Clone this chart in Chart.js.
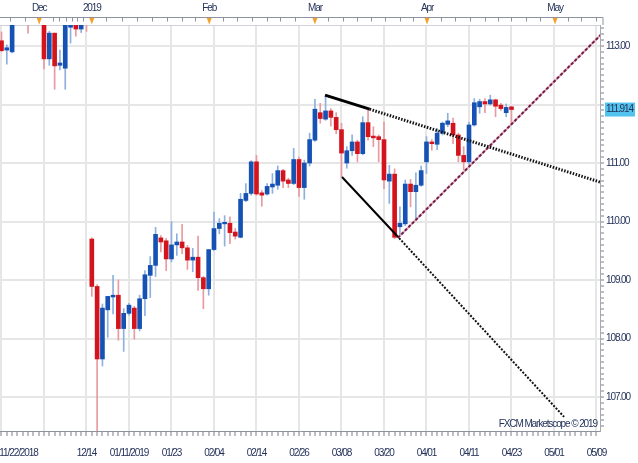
<!DOCTYPE html>
<html>
<head>
<meta charset="utf-8">
<script src="https://cdn.jsdelivr.net/npm/chart.js@4.4.1/dist/chart.umd.min.js"></script>
<style>
  html, body { margin: 0; padding: 0; background: #fff; }
</style>
</head>
<body>
<canvas id="chart" width="638" height="463"></canvas>
<script>
// one bar per trading day, bar 0 = 11/22/2018, bar 96 = 04/23/2019
const opens = [113.09, 112.93, 112.90, 113.50, 113.65, 113.75, 113.50, 113.62, 113.55, 112.78,
  113.22, 112.67, 112.62, 113.32, 113.45, 113.29, 113.55, 109.70, 108.89, 107.65,
  108.49, 108.71, 108.74, 108.17, 108.43, 108.52, 108.17, 108.68, 109.08, 109.25,
  109.72, 109.67, 109.36, 109.60, 109.65, 109.55, 109.34, 109.39, 109.04, 108.85,
  109.52, 109.88, 109.96, 109.97, 109.82, 109.73, 110.36, 110.48, 111.02, 110.49,
  110.47, 110.59, 110.62, 110.87, 110.71, 110.65, 111.06, 110.58, 111.00, 111.39,
  111.86, 111.75, 111.89, 111.78, 111.57, 111.00, 111.21, 111.36, 111.16, 111.69,
  111.46, 111.45, 111.40, 110.69, 110.81, 109.91, 109.96, 110.64, 110.51, 110.62,
  111.02, 111.36, 111.32, 111.51, 111.66, 111.68, 111.48, 111.13, 111.02, 111.65,
  111.96, 112.05, 112.01, 112.08, 111.99, 111.86, 111.96];
const highs = [113.24, 113.02, 113.55, 113.80, 113.90, 113.85, 113.85, 113.80, 113.70, 113.25,
  113.22, 112.93, 113.55, 113.55, 113.55, 113.50, 113.60, 109.72, 108.92, 108.59,
  108.72, 109.08, 109.00, 108.51, 108.60, 108.55, 108.74, 109.16, 109.40, 109.90,
  109.76, 109.71, 110.00, 109.79, 109.95, 109.59, 109.54, 109.75, 109.06, 109.52,
  110.16, 110.05, 110.10, 110.08, 109.88, 110.48, 110.65, 111.04, 111.13, 110.53,
  110.65, 110.82, 110.95, 110.89, 110.74, 111.25, 111.10, 111.05, 111.51, 112.09,
  112.02, 112.14, 111.93, 111.86, 111.68, 111.28, 111.48, 111.39, 111.79, 111.90,
  111.62, 111.48, 111.70, 110.96, 110.90, 110.25, 110.71, 110.72, 110.83, 110.95,
  111.45, 111.40, 111.59, 111.70, 111.85, 111.77, 111.51, 111.28, 111.70, 112.10,
  112.09, 112.10, 112.16, 112.09, 112.02, 112.01, 111.97];
const lows = [112.90, 112.69, 112.88, 113.42, 113.45, 113.22, 113.40, 113.45, 112.61, 112.67,
  112.26, 112.59, 112.26, 113.05, 113.17, 113.23, 113.25, 108.72, 104.87, 107.53,
  108.02, 108.42, 107.97, 107.78, 108.40, 107.99, 108.13, 108.39, 108.70, 109.06,
  109.48, 109.16, 109.31, 109.42, 109.45, 109.18, 109.14, 108.82, 108.51, 108.74,
  109.50, 109.79, 109.58, 109.62, 109.70, 109.72, 110.34, 110.45, 110.45, 110.26,
  110.45, 110.48, 110.55, 110.58, 110.58, 110.63, 110.43, 110.38, 110.95, 111.37,
  111.68, 111.73, 111.63, 111.50, 110.76, 110.91, 111.13, 111.02, 111.14, 111.39,
  111.28, 111.02, 110.56, 110.31, 109.71, 109.76, 109.93, 110.25, 110.04, 110.60,
  110.82, 111.22, 111.23, 111.48, 111.62, 111.33, 111.02, 110.88, 110.97, 111.63,
  111.85, 111.86, 111.99, 111.79, 111.90, 111.79, 111.68];
const closes = [112.92, 112.97, 113.50, 113.65, 113.75, 113.50, 113.62, 113.55, 112.78, 113.22,
  112.66, 112.71, 113.50, 113.45, 113.29, 113.42, 113.40, 108.89, 107.65, 108.52,
  108.72, 108.74, 108.17, 108.43, 108.57, 108.17, 108.68, 109.09, 109.25, 109.78,
  109.65, 109.36, 109.60, 109.65, 109.55, 109.34, 109.39, 109.04, 108.85, 109.52,
  109.88, 109.97, 109.98, 109.81, 109.75, 110.38, 110.48, 111.02, 110.47, 110.45,
  110.60, 110.64, 110.87, 110.69, 110.65, 111.06, 110.58, 111.00, 111.40, 111.92,
  111.76, 111.89, 111.78, 111.57, 111.17, 111.21, 111.36, 111.16, 111.69, 111.45,
  111.43, 111.40, 110.71, 110.81, 109.73, 109.97, 110.64, 110.51, 110.62, 110.87,
  111.36, 111.33, 111.51, 111.68, 111.72, 111.48, 111.13, 111.02, 111.65, 112.03,
  112.05, 112.01, 112.08, 111.97, 111.93, 111.95, 111.914];

// trend lines, [bar, price]
const upperSolid = [[60.9, 112.16], [69.3, 111.92]];
const upperDotted = [[69.3, 111.92], [112.8, 110.67]];
const lowerSolid = [[64.1, 110.76], [74.4, 109.76]];
const lowerDotted = [[74.4, 109.76], [105.9, 106.66]];
const supportLine = [[74.6, 109.72], [112.8, 113.19]];

// axis labels
const dateTickPos = [3.2, 16, 24, 32, 40, 48, 56, 64, 72, 80, 88, 96, 104, 112];
const dateTickText = ['11/22/2018', '12/14', '01/11/2019', '01/23', '02/04', '02/14', '02/26',
  '03/08', '03/20', '04/01', '04/11', '04/23', '05/01', '05/09'];
const monthPos = [7.1, 17, 39.1, 59, 80.1, 104.2];
const monthText = ['Dec', '2019', 'Feb', 'Mar', 'Apr', 'May'];
const topMinorPos = [1.6, 4.4, 9.7, 10.8, 12.1, 13.3, 14.2, 15.3, 19.7, 22.7, 25.5, 28.3, 31.2,
  34.0, 36.4, 41.7, 44.4, 47.2, 50.0, 52.4, 55.3, 61.5, 64.3, 66.9, 69.6, 72.2, 75.0, 77.5,
  82.7, 85.4, 88.2, 91.0, 93.5, 95.9, 98.7, 101.4, 106.6, 109.1, 111.9];
const lastPrice = 111.914;

const FONT = "'Liberation Sans', 'DejaVu Sans', sans-serif";
const TEXT = '#25335a';
Chart.defaults.font.family = FONT;
Chart.defaults.font.size = 10;
Chart.defaults.color = TEXT;

const RED = '#d3141c', BLUE = '#1652b4';
const RED_WICK = '#e89aa0', BLUE_WICK = '#8db0de';
const bars = opens.map((o, i) => i);
const up = i => closes[i] >= opens[i];
const pts = arr => arr.map(p => ({ x: p[0], y: p[1] }));
const near = (a, b) => Math.abs(a - b) < 1e-6;

function lineSet(arr, color, width, dash, order) {
  return {
    type: 'line', data: pts(arr), borderColor: color, borderWidth: width,
    borderDash: dash, pointRadius: 0, fill: false, tension: 0, order: order || 0, clip: 0
  };
}

// the original labels are very narrow, tighten the glyphs a bit
const narrowText = {
  id: 'narrowText',
  beforeUpdate(chart) { chart.ctx.letterSpacing = '-1.1px'; },
  beforeDraw(chart) { chart.ctx.letterSpacing = '-1.1px'; }
};

const frame = {
  id: 'frame',
  afterDraw(chart) {
    const c = chart.ctx, top = chart.scales.xTop, a = chart.chartArea;
    c.save();
    c.strokeStyle = '#8d929c';
    c.lineWidth = 1;
    c.beginPath();
    c.moveTo(a.left, 17.5); c.lineTo(a.right + 3, 17.5); c.lineTo(a.right + 3, 25);
    topMinorPos.forEach(p => {
      const x = Math.round(top.getPixelForValue(p)) + 0.5;
      c.moveTo(x, 17.5); c.lineTo(x, 21.5);
    });
    c.stroke();
    c.fillStyle = '#f2a22c';
    monthPos.forEach(p => {
      const x = top.getPixelForValue(p);
      c.beginPath();
      c.moveTo(x - 2.5, 18); c.lineTo(x + 2.5, 18); c.lineTo(x, 24.5);
      c.closePath(); c.fill();
    });
    c.font = '10px ' + FONT;
    c.fillStyle = TEXT;
    c.textAlign = 'right';
    c.textBaseline = 'middle';
    c.fillText('FXCM Marketscope \u00a9 2019', a.right - 3, 424);
    c.restore();
  }
};

new Chart(document.getElementById('chart'), {
  type: 'bar',
  data: {
    datasets: [
      lineSet(upperSolid, '#000', 3, []),
      lineSet(upperDotted, '#111', 3, [1.5, 1.5]),
      lineSet(lowerSolid, '#000', 2, []),
      lineSet(lowerDotted, '#111', 2, [2, 1.5]),
      lineSet(supportLine, '#761a44', 2, [3, 2], 0),
      lineSet(supportLine, '#dba6bd', 2, [], 0.5),
      {
        data: bars.map(i => ({ x: i, y: [opens[i], closes[i]] })),
        backgroundColor: bars.map(i => up(i) ? BLUE : RED),
        barThickness: 4, minBarLength: 1.5, grouped: false, order: 1, clip: 0
      },
      {
        data: bars.map(i => ({ x: i, y: [lows[i], highs[i]] })),
        backgroundColor: bars.map(i => up(i) ? BLUE_WICK : RED_WICK),
        barThickness: 1, grouped: false, order: 2, clip: 0
      }
    ]
  },
  options: {
    responsive: false,
    animation: false,
    devicePixelRatio: 1,
    layout: { padding: 0 },
    plugins: { legend: { display: false }, tooltip: { enabled: false } },
    scales: {
      x: {
        type: 'linear', position: 'bottom', offset: false,
        min: -0.282, max: 112.66,
        afterBuildTicks: s => {
          const t = new Set(dateTickPos);
          for (let i = 0; i <= 112; i++) t.add(i);
          s.ticks = [...t].sort((a, b) => a - b).map(v => ({ value: v }));
        },
        afterFit: s => { s.height = 32; s.paddingLeft = 0; s.paddingRight = 0; },
        grid: {
          offset: false,
          color: c => (Number.isInteger(c.tick.value) && c.tick.value % 8 === 0) ? '#e6e6e6' : 'rgba(0,0,0,0)',
          lineWidth: 2,
          tickColor: c => Number.isInteger(c.tick.value) ? '#7a7f88' : 'rgba(0,0,0,0)',
          tickWidth: 1, tickLength: 5
        },
        border: { color: '#8d929c' },
        ticks: {
          autoSkip: false, maxRotation: 0, minRotation: 0, padding: 11,
          callback: v => {
            const k = dateTickPos.findIndex(p => near(p, v));
            return k >= 0 ? dateTickText[k] : '';
          }
        }
      },
      xTop: {
        type: 'linear', position: 'top', offset: false,
        min: -0.282, max: 112.66,
        afterBuildTicks: s => { s.ticks = monthPos.map(v => ({ value: v })); },
        afterFit: s => { s.height = 25; s.paddingLeft = 0; s.paddingRight = 0; },
        grid: { display: false, drawTicks: false, tickLength: 0 },
        border: { color: '#cfd2d8' },
        ticks: {
          autoSkip: false, maxRotation: 0, padding: 11,
          callback: v => {
            const k = monthPos.findIndex(p => near(p, v));
            return k >= 0 ? monthText[k] : '';
          }
        }
      },
      y: {
        type: 'linear', position: 'right',
        min: 106.419, max: 113.359,
        afterBuildTicks: s => {
          const t = [];
          for (let i = 1065; i <= 1133; i++) t.push({ value: i / 10 });
          t.push({ value: lastPrice });
          s.ticks = t.sort((a, b) => a.value - b.value);
        },
        afterFit: s => { s.width = 38; s.paddingTop = 0; s.paddingBottom = 0; },
        grid: {
          color: c => near(c.tick.value, Math.round(c.tick.value)) ? '#e6e6e6' : 'rgba(0,0,0,0)',
          lineWidth: 2,
          tickColor: c => near(c.tick.value, lastPrice) ? 'rgba(0,0,0,0)' : '#7a7f88',
          tickWidth: 1, tickLength: 4
        },
        border: { color: '#a6abb3' },
        ticks: {
          autoSkip: false, padding: 2,
          showLabelBackdrop: c => !!c.tick && near(c.tick.value, lastPrice),
          backdropColor: '#52c3ef',
          backdropPadding: { top: 1, bottom: 1, left: 1, right: 2 },
          callback: v => {
            if (near(v, lastPrice)) return '111.914';
            const r = Math.round(v);
            return (near(v, r) && r !== 112) ? r.toFixed(2) : '';
          }
        }
      }
    }
  },
  plugins: [narrowText, frame]
});
</script>
</body>
</html>
